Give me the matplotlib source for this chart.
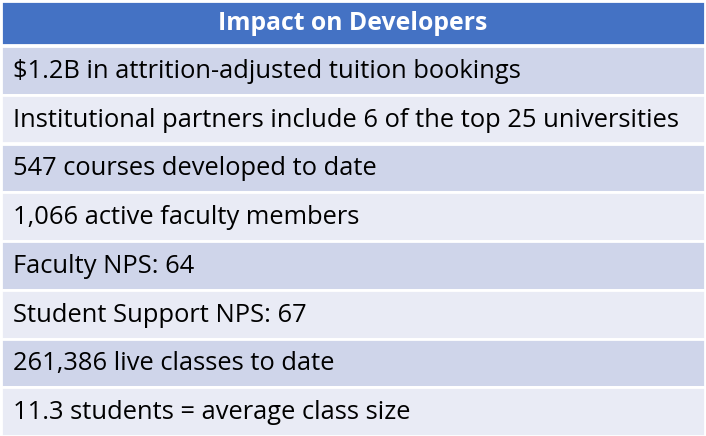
import matplotlib.pyplot as plt
from matplotlib.patches import Rectangle

title = "Impact on Developers"
rows = [
    "$1.2B in attrition-adjusted tuition bookings",
    "Institutional partners include 6 of the top 25 universities",
    "547 courses developed to date",
    "1,066 active faculty members",
    "Faculty NPS: 64",
    "Student Support NPS: 67",
    "261,386 live classes to date",
    "11.3 students = average class size",
]

W, H = 706, 436
head_h = 46
row_h = (H - head_h) / len(rows)

fig = plt.figure(figsize=(W / 100, H / 100), dpi=100)
ax = fig.add_axes([0, 0, 1, 1])
ax.set_xlim(0, W)
ax.set_ylim(H, 0)
ax.axis("off")

ax.add_patch(Rectangle((1, 1), W - 2, head_h - 2, facecolor="#4472C4", edgecolor="white", lw=2))
ax.text(W / 2, head_h / 2 + 1, title, color="white", fontsize=17.8, fontweight="bold",
        ha="center", va="center", family="Open Sans")

for i, txt in enumerate(rows):
    y = head_h + i * row_h
    col = "#CFD5EA" if i % 2 == 0 else "#E9EBF5"
    ax.add_patch(Rectangle((1, y), W - 2, row_h, facecolor=col, edgecolor="white", lw=2))
    ax.text(13, y + row_h / 2 + 1, txt, fontsize=18.4, color="black",
            ha="left", va="center", family="Open Sans")

fig.savefig("out.png", dpi=100)
